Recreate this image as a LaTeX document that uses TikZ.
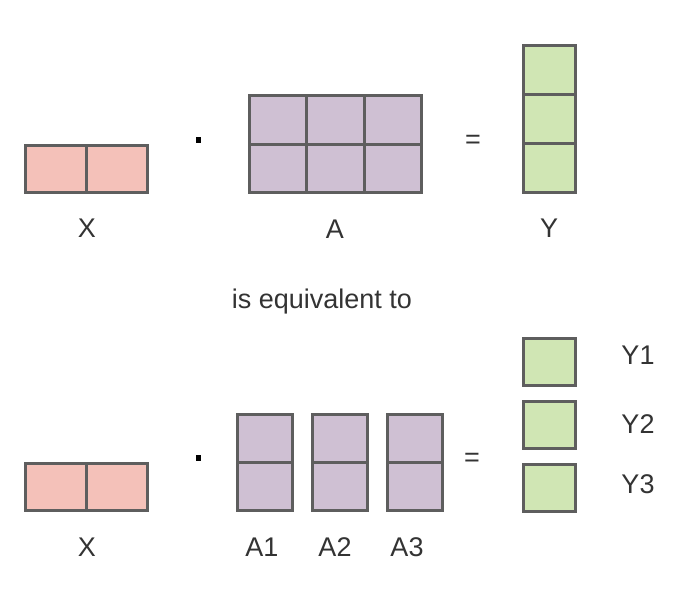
\documentclass[tikz,border=0pt]{standalone}
\usepackage{fontspec}
\setmainfont{Liberation Sans}
\definecolor{cellline}{HTML}{5E5E5E}
\definecolor{labelgray}{HTML}{333333}
\definecolor{xpink}{HTML}{F4C1B9}
\definecolor{apurple}{HTML}{CFC0D3}
\definecolor{ygreen}{HTML}{D0E6B4}
\tikzset{
  cell/.style={draw=cellline, line width=3pt, inner sep=0pt},
  xcell/.style={cell, fill=xpink, minimum width=61pt, minimum height=47pt},
  acell/.style={cell, fill=apurple, minimum width=#1, minimum height=48.5pt},
  ycell/.style={cell, fill=ygreen, minimum width=52pt, minimum height=#1},
  multdot/.style={fill=black, inner sep=0pt, minimum width=5pt, minimum height=6pt},
  label/.style={text=labelgray, inner sep=0pt}
}
\begin{document}
\begin{tikzpicture}[x=1pt, y=-1pt, font=\fontsize{27}{32}\selectfont]
\useasboundingbox (0,0) rectangle (680,590);

% X . A = Y
\node[xcell] (x1) at (56,169) {};
\node[xcell] (x2) at (117,169) {};
\node[multdot] (dot1) at (198,140) {};
\foreach \i/\xa in {1/278.2,2/335.5,3/392.8}{
  \node[acell=57.3pt] (a1\i) at (\xa,119.75) {};
  \node[acell=57.3pt] (a2\i) at (\xa,168.25) {};
}
\node[label] (eq1) at (473,142) {=};
\foreach \i/\ya in {1/70,2/119,3/168}
  \node[ycell=49pt] (y\i) at (549.5,\ya) {};
\node[label] (lx1) at (87,228) {X};
\node[label] (la) at (335,229) {A};
\node[label] (ly) at (549,228) {Y};

\node[label] (equiv) at (322,302) {is equivalent to};

% X . A1 A2 A3 = Y1 Y2 Y3
\node[xcell] (xb1) at (56,486.5) {};
\node[xcell] (xb2) at (117,486.5) {};
\node[multdot] (dot2) at (198,458) {};
\foreach \i/\xa in {1/265,2/340,3/414.5}{
  \node[acell=55pt] (ab\i1) at (\xa,438.5) {};
  \node[acell=55pt] (ab\i2) at (\xa,486.5) {};
}
\node[label] (eq2) at (472,460) {=};
\foreach \i/\ya in {1/362,2/424.5,3/487.5}
  \node[ycell=47pt] (yb\i) at (549.5,\ya) {};
\node[label] (lx2) at (87,547) {X};
\node[label] (la1) at (262,547) {A1};
\node[label] (la2) at (335,547) {A2};
\node[label] (la3) at (407,547) {A3};
\node[label] (ly1) at (638,355) {Y1};
\node[label] (ly2) at (638,424) {Y2};
\node[label] (ly3) at (638,484) {Y3};

\end{tikzpicture}
\end{document}
